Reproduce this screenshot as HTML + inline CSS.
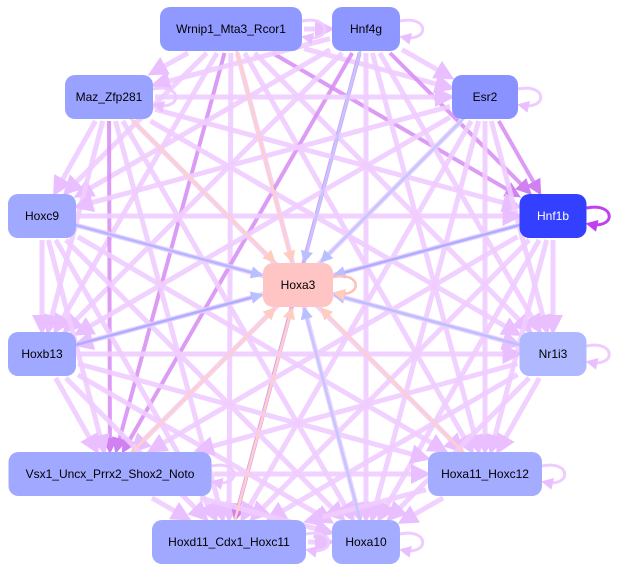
<!DOCTYPE html>
<html><head><meta charset="utf-8"><style>
html,body{margin:0;padding:0;background:#fff;width:620px;height:572px;overflow:hidden}
svg{display:block}
text{font-family:"Liberation Sans",sans-serif;font-size:12px;text-anchor:middle;dominant-baseline:central}
</style></head><body>
<svg id="s" width="620" height="572" xmlns="http://www.w3.org/2000/svg">
<defs>
<marker id="ap" markerWidth="4" markerHeight="4" refX="3" refY="2" orient="auto" markerUnits="strokeWidth"><path d="M0,0L4,2L0,4z" fill="#eabfff"/></marker>
<marker id="ad" markerWidth="4" markerHeight="4" refX="3" refY="2" orient="auto" markerUnits="strokeWidth"><path d="M0,0L4,2L0,4z" fill="#d080f0"/></marker>
<marker id="ab" markerWidth="5" markerHeight="5" refX="4" refY="2.5" orient="auto" markerUnits="strokeWidth"><path d="M0,0L5,2.5L0,5z" fill="#b8c0ff"/></marker>
<marker id="ao" markerWidth="5" markerHeight="5" refX="4" refY="2.5" orient="auto" markerUnits="strokeWidth"><path d="M0,0L5,2.5L0,5z" fill="#ffccc0"/></marker>
<marker id="am" markerWidth="4" markerHeight="4" refX="3" refY="2" orient="auto" markerUnits="strokeWidth"><path d="M0,0L4,2L0,4z" fill="#c040f0"/></marker>
</defs>
<g id="e"></g><g id="n"></g>
</svg>
<script>
var N=[
["Wrnip1_Mta3_Rcor1",231,29,142,"#9099ff"],
["Hnf4g",366,29,68,"#8e97ff"],
["Maz_Zfp281",109,97,88,"#9aa2ff"],
["Esr2",485,97,66,"#8a92ff"],
["Hoxc9",42,216,68,"#a0a8ff"],
["Hnf1b",553,216,67,"#3340ff"],
["Hoxb13",42,354,68,"#a0a8ff"],
["Nr1i3",553,354,67,"#b0b8ff"],
["Vsx1_Uncx_Prrx2_Shox2_Noto",110,474,203,"#a0a8ff"],
["Hoxa11_Hoxc12",485,474,114,"#a4acff"],
["Hoxd11_Cdx1_Hoxc11",229,542,154,"#a0a8ff"],
["Hoxa10",366,542,68,"#a4acff"]];
var H=[298,285,70];
var e=document.getElementById('e'),nn=document.getElementById('n'),ns="http://www.w3.org/2000/svg";
function el(t,a,p){var x=document.createElementNS(ns,t);for(var k in a)x.setAttribute(k,a[k]);p.appendChild(x);return x}
function clip(a,b,w){var dx=a[0]-b[0],dy=a[1]-b[1],hw=w/2+2,hh=24;var t=Math.min(Math.abs(hw/(dx||1e-9)),Math.abs(hh/(dy||1e-9)));return [b[0]+dx*t,b[1]+dy*t]}
var dark={"0-5":1,"1-5":1,"3-5":1,"1-8":1,"0-8":1,"1-10":1,"2-8":1};
for(var i=0;i<N.length;i++)for(var j=i+1;j<N.length;j++){
 var A=[N[i][1],N[i][2]],B=[N[j][1],N[j][2]];
 var p=clip(B,A,N[i][3]),q=clip(A,B,N[j][3]);
 var d=dark[i+"-"+j];
 el('line',{x1:p[0],y1:p[1],x2:q[0],y2:q[1],stroke:d?"#d890f4":"#efccff","stroke-width":d?4:5,"marker-end":d?"url(#ad)":"url(#ap)","stroke-opacity":0.9},e);
}
var tint=["#ffd0c8","#c0c8ff","#ffd0c8","#c0c8ff","#b0b8ff","#a8b0ff","#a8b0ff","#b8c0ff","#ffd0c8","#ffd0c8","#ffd0c8","#c0c8ff"];
for(var i=0;i<N.length;i++){
 var A=[N[i][1],N[i][2]];var q=clip(A,[H[0],H[1]],H[2]);
 el('line',{x1:A[0],y1:A[1],x2:q[0],y2:q[1],stroke:tint[i],"stroke-width":2.5,"marker-end":tint[i]=="#ffd0c8"?"url(#ao)":"url(#ab)"},e);
}
function loop(x,y,w,c,sw,m){var r=x+w/2;el('path',{d:"M"+r+","+(y-8)+" C"+(r+30)+","+(y-14)+" "+(r+30)+","+(y+14)+" "+(r+2)+","+(y+8),fill:"none",stroke:c,"stroke-width":sw,"marker-end":m},e)}
N.forEach(function(n,i){if(i!=4&&i!=6)loop(n[1],n[2],n[3],i==5?"#c040f0":"#efccff",3,i==5?"url(#am)":"url(#ap)")});
loop(H[0],H[1],H[2],"#ffc0b8",2.5,"url(#ao)");
N.forEach(function(n){el('rect',{x:n[1]-n[3]/2,y:n[2]-22,width:n[3],height:44,rx:10,fill:n[4]},nn);
 var t=el('text',{x:n[1],y:n[2],fill:n[0]=="Hnf1b"?"#fff":"#000"},nn);t.textContent=n[0]});
el('rect',{x:H[0]-35,y:H[1]-22,width:70,height:44,rx:10,fill:"#ffc4c4"},nn);
var t=el('text',{x:H[0],y:H[1]},nn);t.textContent="Hoxa3";
</script>
</body></html>
